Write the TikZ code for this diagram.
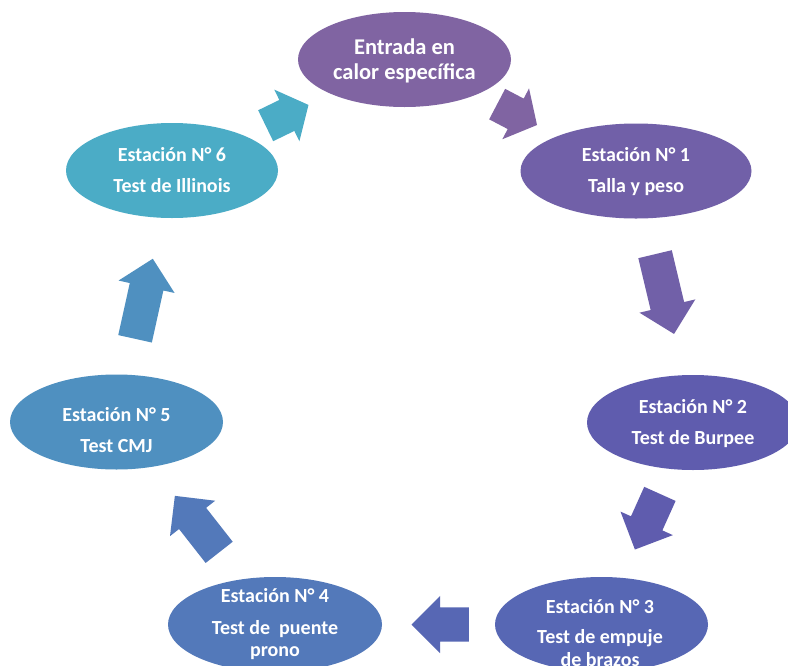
\documentclass[tikz,border=0pt]{standalone}
\usepackage{fontspec}
\setmainfont{Carlito}
\usetikzlibrary{shapes.geometric,shapes.arrows}
\definecolor{c0}{RGB}{128,100,162}
\definecolor{c1}{RGB}{113,96,168}
\definecolor{c2}{RGB}{95,92,174}
\definecolor{c3}{RGB}{87,103,180}
\definecolor{c4}{RGB}{83,121,186}
\definecolor{c5}{RGB}{79,144,192}
\definecolor{c6}{RGB}{75,172,198}
\tikzset{
  oval/.style={ellipse, draw=none, inner sep=0pt, minimum height=95pt},
  txt/.style={text=white, font=\fontsize{20}{24}\selectfont\bfseries, anchor=base, inner sep=0pt},
  bigtxt/.style={text=white, font=\fontsize{22.5}{26}\selectfont\bfseries, anchor=base, inner sep=0pt},
  blockarrow/.style={single arrow, draw=none, inner xsep=0pt, inner ysep=17pt,
    single arrow head extend=11.5pt, minimum width=57pt, minimum height=#1, anchor=tail}
}
\begin{document}
\begin{tikzpicture}[x=1pt,y=-1pt]
\clip (0,0) rectangle (788,665);
\fill[white] (0,0) rectangle (788,665);
% ovals
\node[oval, fill=c0, minimum width=213pt] (e0) at (404.5,59.5) {};
\node[oval, fill=c1, minimum width=231pt] (e1) at (636,171) {};
\node[oval, fill=c2, minimum width=212pt] (e2) at (693,422.5) {};
\node[oval, fill=c3, minimum width=213pt] (e3) at (601.5,624.5) {};
\node[oval, fill=c4, minimum width=214pt] (e4) at (275,624.5) {};
\node[oval, fill=c5, minimum width=213pt] (e5) at (116.5,422) {};
\node[oval, fill=c6, minimum width=212pt] (e6) at (172,170.5) {};
% texts
\node[bigtxt] (t0a) at (404.5,54) {Entrada en};
\node[bigtxt] (t0b) at (404.5,79) {calor específica};
\node[txt] (t1a) at (636,161) {Estación N° 1};
\node[txt] (t1b) at (636,192) {Talla y peso};
\node[txt] (t2a) at (693,413) {Estación N° 2};
\node[txt] (t2b) at (693,444) {Test de Burpee};
\node[txt] (t3a) at (600,613) {Estación N° 3};
\node[txt] (t3b) at (600,643) {Test de empuje};
\node[txt] (t3c) at (600,666) {de brazos};
\node[txt] (t4a) at (275,602.5) {Estación N° 4};
\node[txt] (t4b) at (275,634) {Test de\ \ puente};
\node[txt] (t4c) at (275,656) {prono};
\node[txt] (t5a) at (116.5,421) {Estación N° 5};
\node[txt] (t5b) at (116.5,452) {Test CMJ};
\node[txt] (t6a) at (172,161) {Estación N° 6};
\node[txt] (t6b) at (172,192) {Test de Illinois};
% block arrows
\coordinate (pa) at (497,104);
\coordinate (pb) at (655,254);
\coordinate (pc) at (660,493.7);
\coordinate (pd) at (469,624.5);
\coordinate (pe) at (219.3,552.5);
\coordinate (pf) at (135,339);
\coordinate (pg) at (265.5,125.8);
\node[blockarrow=45pt, single arrow tip angle=100, fill=c0, rotate=-27.7] (a01) at (pa) {};
\node[blockarrow=82pt, fill=c1, rotate=-76.6] (a12) at (pb) {};
\node[blockarrow=61pt, fill=c2, rotate=-114.2] (a23) at (pc) {};
\node[blockarrow=57.3pt, fill=c3, rotate=180] (a34) at (pd) {};
\node[blockarrow=71.8pt, fill=c4, rotate=128.1] (a45) at (pe) {};
\node[blockarrow=82pt, fill=c5, rotate=77.5] (a56) at (pf) {};
\node[blockarrow=47.6pt, single arrow tip angle=100, fill=c6, rotate=25.9] (a60) at (pg) {};
\end{tikzpicture}
\end{document}
